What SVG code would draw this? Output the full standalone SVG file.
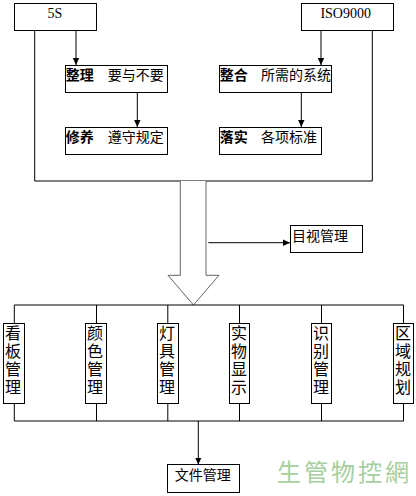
<svg xmlns="http://www.w3.org/2000/svg" width="416" height="496" viewBox="0 0 416 496">
<style>
.box{fill:#fff;stroke:#000;stroke-width:1}
.ln{fill:none;stroke:#000;stroke-width:1}
.t{font-family:"Noto Sans CJK SC","Liberation Sans",sans-serif;font-size:14px;fill:#000}
.tb{font-family:"Noto Sans CJK SC","Liberation Sans",sans-serif;font-size:14px;font-weight:bold;fill:#000}
.ts{font-family:"Liberation Serif","Noto Sans CJK SC",serif;font-size:14px;fill:#000}
.tv{font-family:"Noto Sans CJK SC","Liberation Sans",sans-serif;font-size:16px;fill:#000;writing-mode:vertical-rl;letter-spacing:2px}
.wm{font-family:"Noto Sans CJK TC","Noto Sans CJK SC",sans-serif;font-size:24px;fill:#a5cf9d}
</style>
<defs>
<marker id="ah" markerWidth="8" markerHeight="8" refX="7" refY="4" orient="auto" markerUnits="userSpaceOnUse">
<path d="M0,0.8 L7,4 L0,7.2 Z" fill="#000"/>
</marker>
</defs>
<rect width="416" height="496" fill="#fff"/>
<g id="connectors">
<path class="ln" d="M34.7,30.7 V181 H372.3 V30.7"/>
<path class="ln" d="M76,30.7 V65" marker-end="url(#ah)"/>
<path class="ln" d="M137.3,92.3 V127" marker-end="url(#ah)"/>
<path class="ln" d="M321,30.7 V65" marker-end="url(#ah)"/>
<path class="ln" d="M301.3,92.3 V127" marker-end="url(#ah)"/>
<path d="M180.3,181 V275.3 H168 L193.5,305 L219,275.3 H206 V181" fill="#fff" stroke="#666" stroke-width="1"/>
<path class="ln" d="M208.3,242.7 H290" marker-end="url(#ah)"/>
<path class="ln" d="M14.3,305 H403.7 M14.3,305 V323.3 M96.5,305 V323.3 M167.8,305 V323.3 M239.5,305 V323.3 M321.5,305 V323.3 M403.5,305 V323.3"/>
<path class="ln" d="M14.3,421 H403.7 M14.3,403.3 V421 M96.5,403.3 V421 M167.8,403.3 V421 M239.5,403.3 V421 M321.5,403.3 V421 M403.5,403.3 V421"/>
<path class="ln" d="M198.3,421 V464.5" marker-end="url(#ah)"/>
</g>
<g id="n5s"><rect class="box" x="14.5" y="3.5" width="82" height="27"/><text class="ts" x="55" y="18" text-anchor="middle">5S</text></g>
<g id="iso"><rect class="box" x="301.5" y="3.5" width="92" height="27"/><text class="ts" x="345.7" y="18" text-anchor="middle">ISO9000</text></g>
<g id="zhengli"><rect class="box" x="65.5" y="65.5" width="102" height="27"/><text class="tb" x="65.7" y="80">整理</text><text class="t" x="107.7" y="80">要与不要</text></g>
<g id="xiuyang"><rect class="box" x="65.5" y="127.5" width="102" height="27"/><text class="tb" x="65.7" y="142">修养</text><text class="t" x="107.7" y="142">遵守规定</text></g>
<g id="zhenghe"><rect class="box" x="219.5" y="65.5" width="112" height="27"/><text class="tb" x="219.7" y="80">整合</text><text class="t" x="261" y="80">所需的系统</text></g>
<g id="luoshi"><rect class="box" x="219.5" y="127.5" width="102" height="27"/><text class="tb" x="219.7" y="142">落实</text><text class="t" x="261" y="142">各项标准</text></g>
<g id="mushi"><rect class="box" x="290.5" y="225.5" width="72" height="27"/><text class="t" x="292" y="240.5">目视管理</text></g>
<g id="kanban"><rect class="box" x="3.5" y="323.5" width="21" height="80"/><text class="tv" x="13" y="325">看板管理</text></g>
<g id="yanse"><rect class="box" x="85.5" y="323.5" width="21" height="80"/><text class="tv" x="95" y="325">颜色管理</text></g>
<g id="dengju"><rect class="box" x="157.5" y="323.5" width="21" height="80"/><text class="tv" x="167" y="325">灯具管理</text></g>
<g id="shiwu"><rect class="box" x="229.5" y="323.5" width="20" height="80"/><text class="tv" x="239" y="325">实物显示</text></g>
<g id="shibie"><rect class="box" x="311.5" y="323.5" width="20" height="80"/><text class="tv" x="321" y="325">识别管理</text></g>
<g id="quyu"><rect class="box" x="393.5" y="323.5" width="20" height="80"/><text class="tv" x="403" y="325">区域规划</text></g>
<g id="wenjian"><rect class="box" x="167.5" y="464.5" width="72" height="28"/><text class="t" x="174.7" y="480">文件管理</text></g>
<text class="wm" x="277" y="481" letter-spacing="3">生管物控網</text>
</svg>
